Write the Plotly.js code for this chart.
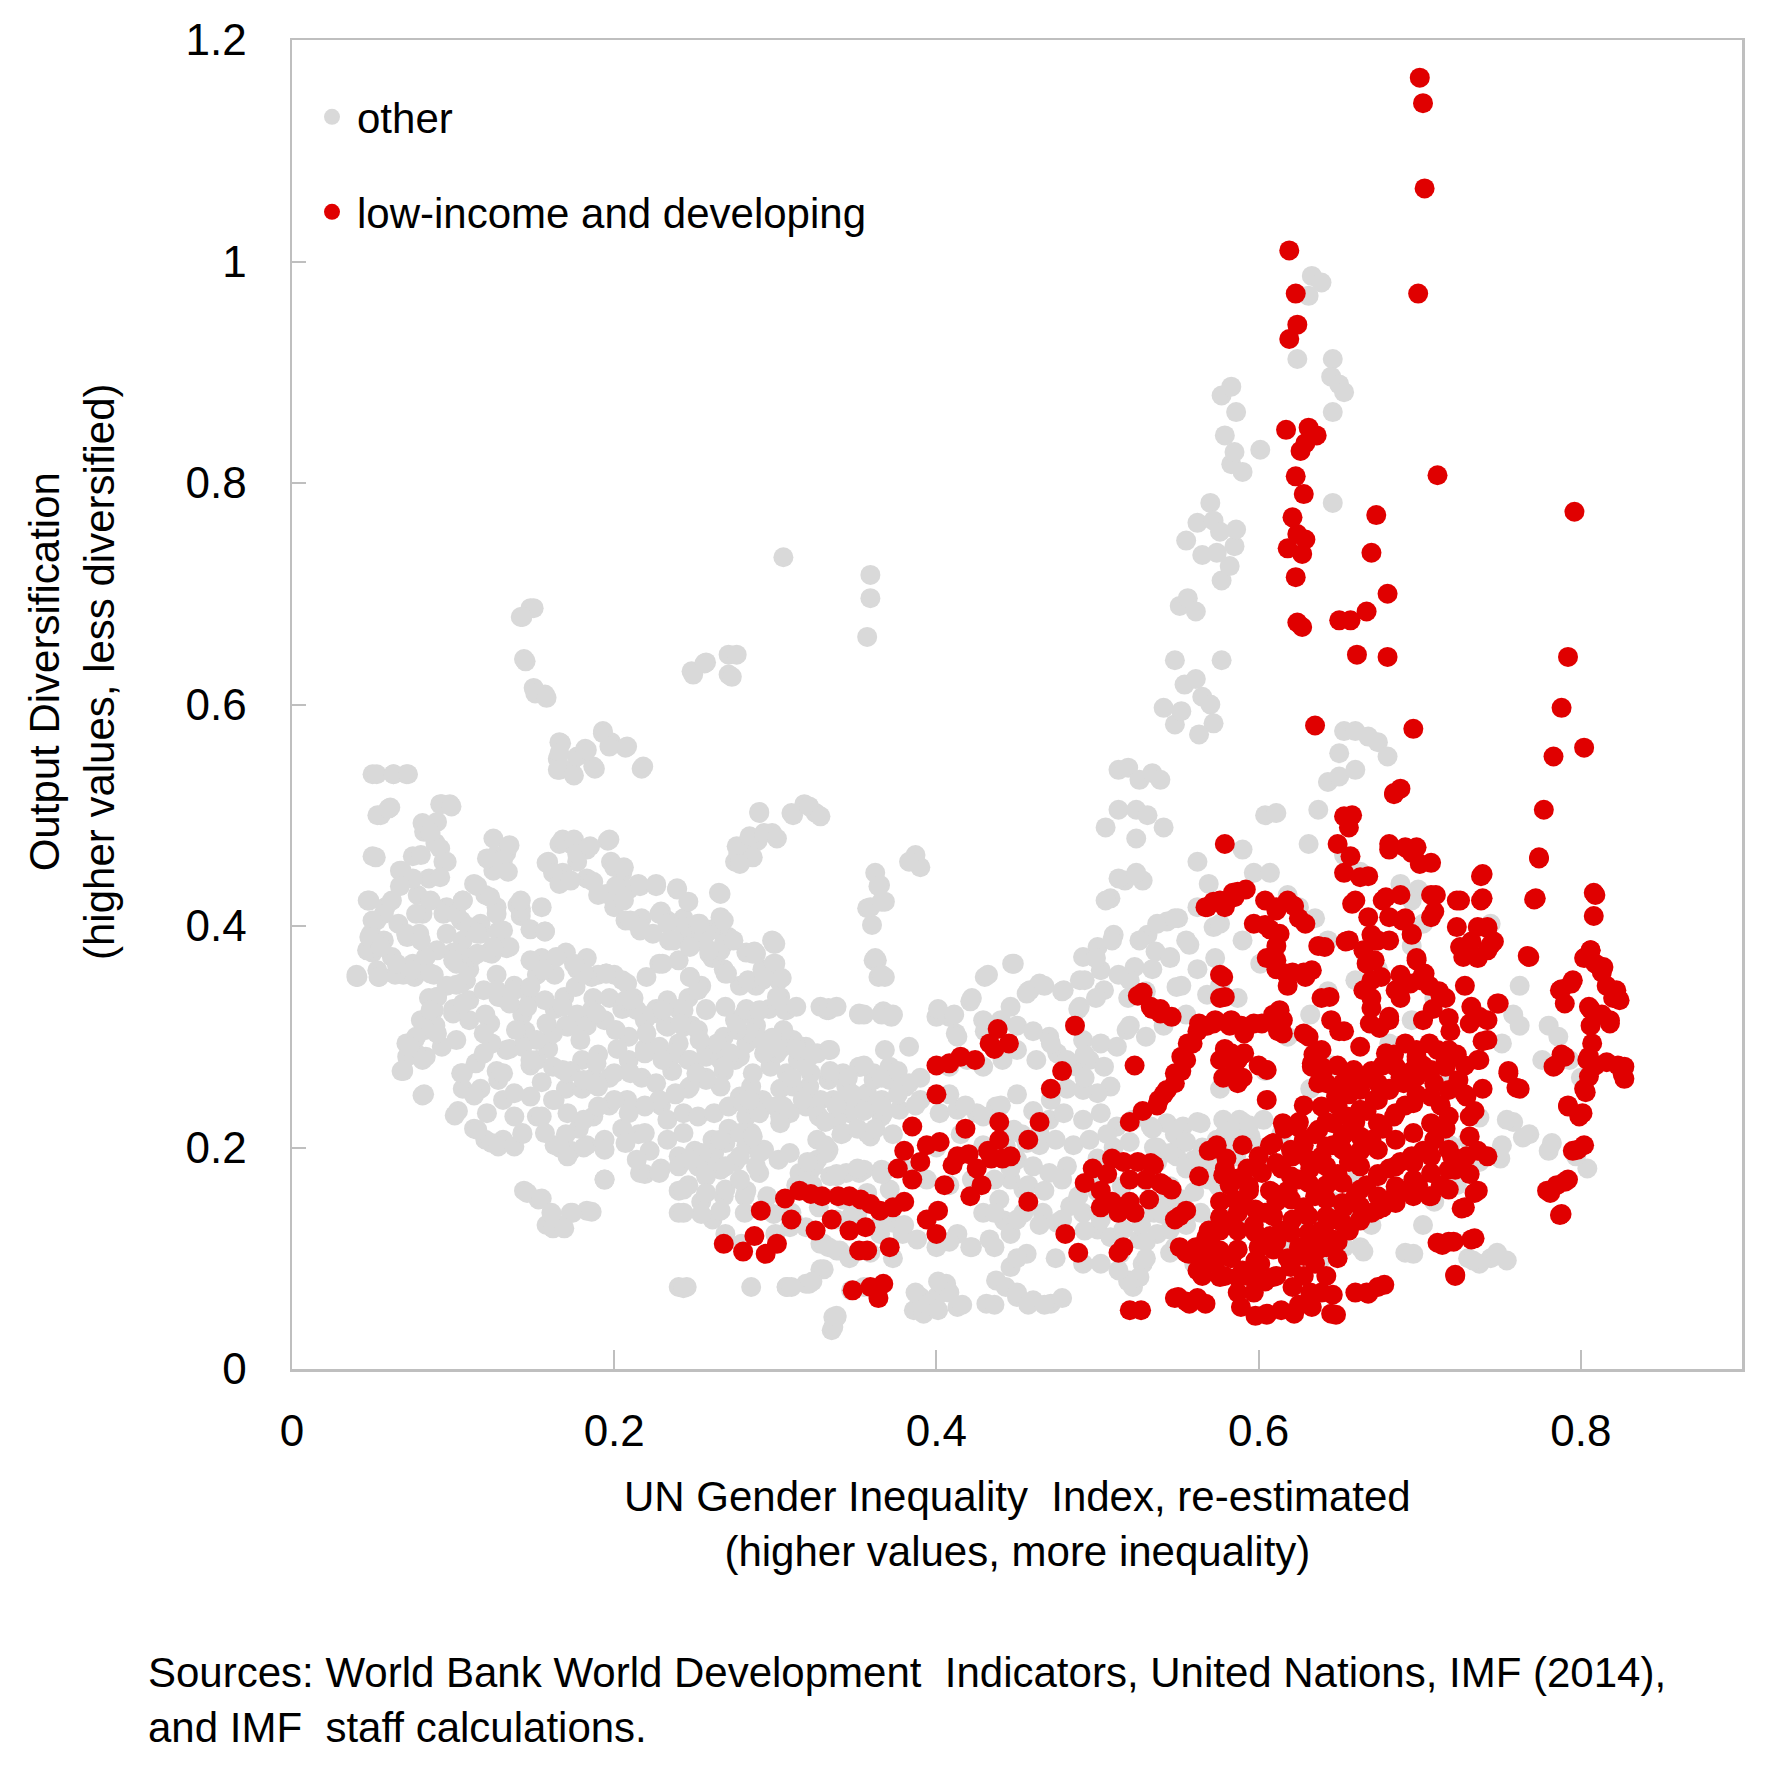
<!DOCTYPE html>
<html>
<head>
<meta charset="utf-8">
<script src="https://cdn.plot.ly/plotly-3.0.1.min.js"></script>
<style>
html,body{margin:0;padding:0;background:#fff;}
#chart{width:1767px;height:1779px;}
</style>
</head>
<body>
<div id="chart"></div>
<script>
// ---- Data: [gender inequality index, output diversification] ----
const otherLeft = [[0.04,0.356],[0.05,0.537],[0.063,0.537],[0.071,0.537],[0.053,0.50],[0.061,0.507],[0.05,0.463],[0.047,0.423],[0.058,0.417],[0.067,0.45],[0.075,0.463],[0.082,0.485],[0.092,0.51],[0.098,0.51],[0.089,0.475],[0.096,0.458],[0.085,0.443],[0.078,0.428],[0.066,0.402],[0.057,0.387],[0.05,0.376],[0.053,0.36],[0.064,0.356],[0.075,0.366],[0.082,0.361],[0.071,0.392],[0.096,0.417],[0.106,0.423],[0.113,0.438],[0.12,0.428],[0.127,0.417],[0.117,0.402],[0.106,0.387],[0.1,0.376],[0.11,0.361],[0.096,0.346],[0.085,0.335],[0.08,0.315],[0.071,0.294],[0.068,0.269],[0.082,0.248],[0.103,0.233],[0.078,0.284],[0.089,0.31],[0.1,0.325],[0.11,0.315],[0.12,0.32],[0.131,0.335],[0.127,0.356],[0.122,0.376],[0.131,0.382],[0.126,0.463],[0.133,0.466],[0.125,0.45],[0.14,0.419],[0.142,0.409],[0.138,0.346],[0.148,0.335],[0.143,0.32],[0.145,0.305],[0.135,0.289],[0.127,0.269],[0.117,0.253],[0.106,0.253],[0.113,0.217],[0.12,0.207],[0.131,0.207],[0.138,0.228],[0.143,0.212],[0.152,0.228],[0.163,0.243],[0.155,0.259],[0.148,0.274],[0.159,0.289],[0.17,0.31],[0.163,0.325],[0.152,0.356],[0.155,0.371],[0.163,0.356],[0.148,0.397],[0.155,0.417],[0.142,0.679],[0.148,0.687],[0.144,0.641],[0.15,0.615],[0.157,0.609]];
const otherUpperMid = [[0.166,0.566],[0.165,0.551],[0.166,0.541],[0.173,0.541],[0.177,0.553],[0.182,0.56],[0.187,0.544],[0.193,0.576],[0.198,0.566],[0.207,0.561],[0.218,0.544],[0.159,0.458],[0.166,0.474],[0.173,0.474],[0.177,0.458],[0.168,0.448],[0.183,0.469],[0.196,0.477],[0.198,0.458],[0.205,0.448],[0.209,0.433],[0.183,0.443],[0.19,0.428],[0.2,0.417],[0.215,0.438],[0.226,0.438],[0.217,0.407],[0.229,0.413],[0.239,0.433],[0.243,0.407],[0.234,0.387],[0.246,0.394],[0.254,0.387],[0.261,0.397],[0.265,0.43],[0.248,0.63],[0.257,0.638],[0.271,0.645],[0.271,0.627],[0.275,0.458],[0.282,0.474],[0.289,0.477],[0.298,0.484],[0.29,0.503],[0.277,0.466],[0.305,0.733],[0.31,0.502],[0.318,0.51],[0.325,0.502]];
const otherDense = [[0.17,0.376],[0.177,0.361],[0.183,0.371],[0.19,0.356],[0.2,0.356],[0.197,0.335],[0.187,0.335],[0.177,0.32],[0.183,0.31],[0.194,0.315],[0.205,0.325],[0.212,0.335],[0.219,0.315],[0.226,0.325],[0.232,0.31],[0.24,0.325],[0.246,0.335],[0.254,0.346],[0.257,0.325],[0.248,0.31],[0.24,0.294],[0.229,0.284],[0.219,0.289],[0.209,0.3],[0.202,0.289],[0.19,0.284],[0.18,0.279],[0.173,0.269],[0.17,0.253],[0.18,0.253],[0.187,0.263],[0.197,0.263],[0.209,0.269],[0.217,0.263],[0.226,0.258],[0.236,0.269],[0.246,0.279],[0.257,0.289],[0.268,0.3],[0.275,0.315],[0.282,0.325],[0.278,0.346],[0.268,0.361],[0.261,0.371],[0.282,0.376],[0.292,0.361],[0.299,0.366],[0.298,0.387],[0.288,0.346],[0.296,0.325],[0.288,0.31],[0.282,0.294],[0.275,0.279],[0.268,0.269],[0.257,0.263],[0.246,0.253],[0.238,0.248],[0.229,0.238],[0.219,0.238],[0.208,0.243],[0.197,0.238],[0.187,0.228],[0.178,0.217],[0.17,0.212],[0.163,0.202],[0.173,0.197],[0.183,0.202],[0.194,0.207],[0.205,0.217],[0.215,0.212],[0.222,0.197],[0.219,0.176],[0.229,0.181],[0.24,0.192],[0.25,0.197],[0.261,0.207],[0.271,0.217],[0.282,0.228],[0.292,0.243],[0.303,0.253],[0.303,0.228],[0.282,0.202],[0.275,0.187],[0.261,0.181],[0.246,0.166],[0.24,0.161],[0.254,0.151],[0.268,0.156],[0.282,0.161],[0.261,0.135],[0.24,0.141],[0.194,0.171],[0.183,0.143],[0.144,0.161],[0.153,0.153],[0.158,0.13],[0.166,0.13],[0.173,0.141],[0.24,0.074],[0.245,0.074],[0.279,0.113]];
const otherLowerLeft = [[0.0406,0.354],[0.0537,0.354],[0.0466,0.378],[0.049,0.393],[0.0525,0.405],[0.062,0.372],[0.069,0.356],[0.076,0.354],[0.088,0.356],[0.0715,0.39],[0.079,0.393],[0.081,0.411],[0.095,0.414],[0.105,0.405],[0.117,0.393],[0.128,0.395],[0.133,0.38],[0.124,0.375],[0.112,0.372],[0.102,0.366],[0.09,0.378],[0.083,0.372],[0.142,0.413],[0.157,0.395],[0.105,0.348],[0.09,0.336],[0.088,0.324],[0.1,0.321],[0.076,0.297],[0.083,0.306],[0.0715,0.282],[0.069,0.269],[0.081,0.247],[0.101,0.229],[0.083,0.282],[0.093,0.291],[0.105,0.267],[0.114,0.276],[0.113,0.247],[0.115,0.216],[0.121,0.231],[0.124,0.204],[0.128,0.201],[0.138,0.201],[0.131,0.243],[0.128,0.261],[0.138,0.249],[0.148,0.246],[0.155,0.228],[0.157,0.213],[0.166,0.2],[0.171,0.192],[0.181,0.2],[0.194,0.198],[0.207,0.204],[0.216,0.177],[0.228,0.177],[0.24,0.183],[0.252,0.183],[0.266,0.18],[0.269,0.204],[0.262,0.195],[0.243,0.213],[0.233,0.207],[0.219,0.213],[0.214,0.189],[0.194,0.171],[0.146,0.159],[0.155,0.154],[0.161,0.141],[0.174,0.141],[0.186,0.142],[0.162,0.127],[0.169,0.127],[0.243,0.073]];
const otherLowerMid = [[0.11,0.333],[0.119,0.342],[0.128,0.336],[0.138,0.342],[0.148,0.345],[0.157,0.333],[0.169,0.336],[0.176,0.345],[0.186,0.354],[0.195,0.357],[0.205,0.351],[0.207,0.333],[0.214,0.324],[0.224,0.321],[0.233,0.309],[0.243,0.309],[0.252,0.306],[0.186,0.324],[0.181,0.309],[0.171,0.309],[0.162,0.303],[0.152,0.297],[0.143,0.291],[0.133,0.288],[0.124,0.294],[0.152,0.279],[0.162,0.273],[0.171,0.267],[0.181,0.261],[0.19,0.255],[0.2,0.267],[0.209,0.279],[0.219,0.285],[0.228,0.291],[0.238,0.285],[0.247,0.279],[0.257,0.282],[0.266,0.279],[0.278,0.282],[0.285,0.303],[0.292,0.297],[0.302,0.294],[0.307,0.267],[0.297,0.273],[0.285,0.255],[0.278,0.246],[0.266,0.255],[0.257,0.261],[0.247,0.255],[0.238,0.249],[0.228,0.243],[0.219,0.237],[0.209,0.231],[0.2,0.243],[0.19,0.237],[0.181,0.225],[0.171,0.231],[0.162,0.243],[0.143,0.213],[0.233,0.225],[0.243,0.231],[0.252,0.228],[0.262,0.231],[0.271,0.237],[0.28,0.24],[0.29,0.231],[0.3,0.237],[0.309,0.231],[0.319,0.237],[0.328,0.243],[0.338,0.237],[0.347,0.243],[0.357,0.249],[0.366,0.243],[0.321,0.255],[0.333,0.261],[0.342,0.267],[0.352,0.273],[0.361,0.267],[0.371,0.273],[0.314,0.279],[0.323,0.285],[0.333,0.288],[0.311,0.297],[0.319,0.291],[0.333,0.324],[0.352,0.321],[0.366,0.321],[0.361,0.369],[0.364,0.354],[0.3,0.384],[0.3,0.366],[0.288,0.375],[0.302,0.351],[0.292,0.351],[0.283,0.351],[0.269,0.357],[0.266,0.378],[0.271,0.39],[0.259,0.375],[0.247,0.354],[0.252,0.342],[0.257,0.324],[0.269,0.327],[0.281,0.321],[0.276,0.306],[0.243,0.324],[0.233,0.333],[0.24,0.369],[0.228,0.366],[0.224,0.393],[0.233,0.405],[0.243,0.399],[0.252,0.402],[0.257,0.393],[0.207,0.405],[0.216,0.399],[0.266,0.408],[0.326,0.189],[0.321,0.177],[0.333,0.198],[0.342,0.213],[0.357,0.213],[0.366,0.228],[0.338,0.174],[0.352,0.177],[0.366,0.18],[0.285,0.213],[0.266,0.207],[0.254,0.195],[0.247,0.189],[0.257,0.174],[0.269,0.183],[0.278,0.192],[0.278,0.213],[0.29,0.195],[0.302,0.189],[0.309,0.195],[0.29,0.177],[0.281,0.156],[0.295,0.156],[0.281,0.141],[0.285,0.074],[0.307,0.074],[0.321,0.077],[0.328,0.09],[0.338,0.047],[0.335,0.035],[0.347,0.071],[0.333,0.11],[0.328,0.113],[0.34,0.107],[0.347,0.138],[0.342,0.153],[0.357,0.159],[0.371,0.162],[0.266,0.143],[0.254,0.14],[0.243,0.141],[0.243,0.162],[0.257,0.159],[0.269,0.162],[0.278,0.171],[0.269,0.122],[0.3,0.122],[0.311,0.134]];
const otherUpperLeft = [[0.150,0.687],[0.143,0.679],[0.145,0.639],[0.151,0.61],[0.158,0.606],[0.256,0.637],[0.249,0.627],[0.276,0.645],[0.273,0.625],[0.167,0.565],[0.166,0.556],[0.165,0.541],[0.175,0.536],[0.183,0.559],[0.188,0.542],[0.193,0.574],[0.197,0.562],[0.208,0.562],[0.217,0.542],[0.0526,0.537],[0.063,0.537],[0.072,0.537],[0.055,0.5],[0.06,0.506],[0.052,0.462],[0.048,0.423],[0.093,0.51],[0.099,0.508],[0.081,0.493],[0.09,0.494],[0.086,0.484],[0.092,0.47],[0.094,0.458],[0.08,0.464],[0.068,0.45],[0.075,0.443],[0.067,0.436],[0.062,0.423],[0.057,0.411],[0.05,0.405],[0.048,0.39],[0.055,0.381],[0.04,0.354],[0.054,0.354],[0.065,0.366],[0.075,0.36],[0.086,0.357],[0.071,0.393],[0.08,0.387],[0.077,0.411],[0.086,0.423],[0.092,0.444],[0.094,0.411],[0.102,0.411],[0.096,0.393],[0.11,0.399],[0.115,0.393],[0.106,0.423],[0.115,0.436],[0.123,0.426],[0.127,0.411],[0.131,0.396],[0.135,0.381],[0.125,0.381],[0.115,0.375],[0.104,0.375],[0.1,0.369],[0.108,0.351],[0.102,0.347],[0.125,0.479],[0.135,0.473],[0.121,0.461],[0.131,0.46],[0.134,0.449],[0.142,0.416],[0.142,0.423],[0.157,0.395],[0.168,0.478],[0.175,0.478],[0.158,0.457],[0.162,0.448],[0.166,0.438],[0.173,0.441],[0.177,0.465],[0.185,0.472],[0.197,0.478],[0.187,0.44],[0.195,0.429],[0.2,0.453],[0.206,0.453],[0.201,0.436],[0.206,0.423],[0.21,0.405],[0.216,0.396],[0.216,0.436],[0.226,0.436],[0.239,0.434],[0.246,0.422],[0.228,0.411],[0.233,0.402],[0.237,0.387],[0.23,0.366],[0.247,0.381],[0.253,0.402],[0.259,0.378],[0.268,0.405],[0.266,0.429],[0.268,0.384],[0.274,0.387],[0.286,0.375],[0.299,0.384],[0.299,0.363],[0.29,0.502],[0.311,0.5],[0.321,0.508],[0.328,0.499],[0.276,0.472],[0.284,0.481],[0.293,0.484],[0.301,0.479],[0.286,0.462],[0.278,0.456],[0.332,0.324],[0.303,0.336],[0.307,0.324],[0.276,0.312],[0.264,0.294],[0.282,0.324],[0.27,0.357],[0.247,0.354],[0.22,0.354],[0.23,0.324],[0.208,0.348],[0.195,0.357],[0.181,0.357],[0.175,0.366],[0.164,0.372],[0.148,0.369],[0.156,0.36],[0.146,0.327],[0.168,0.327],[0.189,0.321],[0.21,0.333],[0.09,0.336],[0.086,0.324],[0.106,0.33],[0.127,0.342],[0.135,0.33],[0.123,0.312],[0.077,0.3],[0.073,0.291],[0.069,0.27],[0.081,0.279],[0.09,0.303],[0.102,0.297],[0.119,0.303],[0.139,0.306],[0.158,0.312],[0.179,0.297],[0.201,0.306],[0.22,0.303],[0.241,0.312],[0.253,0.297],[0.272,0.285],[0.293,0.294],[0.301,0.285],[0.317,0.291],[0.328,0.327],[0.106,0.267],[0.119,0.285],[0.131,0.267],[0.148,0.279],[0.168,0.27],[0.189,0.276],[0.21,0.267],[0.23,0.279],[0.251,0.267],[0.268,0.273],[0.322,0.267]];
const otherMidBand = [[0.365,0.437],[0.368,0.422],[0.357,0.416],[0.36,0.401],[0.363,0.369],[0.368,0.354],[0.299,0.386],[0.287,0.377],[0.299,0.363],[0.304,0.353],[0.293,0.354],[0.301,0.336],[0.306,0.324],[0.29,0.324],[0.333,0.326],[0.352,0.32],[0.367,0.323],[0.372,0.318],[0.305,0.306],[0.298,0.299],[0.313,0.291],[0.326,0.285],[0.334,0.288],[0.368,0.288],[0.383,0.291],[0.408,0.318],[0.412,0.303],[0.421,0.332],[0.43,0.354],[0.448,0.366],[0.464,0.348],[0.456,0.339],[0.479,0.342],[0.489,0.351],[0.5,0.381],[0.491,0.372],[0.508,0.425],[0.51,0.392],[0.531,0.392],[0.543,0.404],[0.55,0.407],[0.536,0.377],[0.545,0.372],[0.557,0.383],[0.523,0.363],[0.52,0.351],[0.502,0.36],[0.504,0.342],[0.489,0.327],[0.549,0.345],[0.568,0.338],[0.572,0.399],[0.517,0.441],[0.528,0.441],[0.4,0.318],[0.413,0.3],[0.429,0.315],[0.446,0.327],[0.458,0.342],[0.408,0.273],[0.419,0.279],[0.429,0.273],[0.441,0.279],[0.45,0.288],[0.462,0.279],[0.47,0.3],[0.475,0.285],[0.487,0.273],[0.495,0.279],[0.504,0.273],[0.508,0.255],[0.5,0.249],[0.491,0.252],[0.512,0.291],[0.518,0.306],[0.491,0.297],[0.293,0.285],[0.286,0.267],[0.284,0.243],[0.305,0.237],[0.303,0.222],[0.311,0.255],[0.319,0.273],[0.334,0.267],[0.344,0.255],[0.353,0.273],[0.361,0.261],[0.371,0.261],[0.381,0.255],[0.39,0.243],[0.336,0.243],[0.346,0.231],[0.357,0.237],[0.367,0.231],[0.377,0.234],[0.338,0.225],[0.326,0.207],[0.332,0.195],[0.324,0.183],[0.315,0.177],[0.334,0.174],[0.344,0.177],[0.355,0.18],[0.367,0.177],[0.288,0.183],[0.293,0.198],[0.286,0.21],[0.359,0.21],[0.402,0.231],[0.4,0.2],[0.413,0.234],[0.425,0.231],[0.437,0.237],[0.448,0.216],[0.456,0.204],[0.464,0.213],[0.47,0.225],[0.479,0.231],[0.491,0.225],[0.502,0.231],[0.512,0.219],[0.522,0.225],[0.533,0.219],[0.543,0.222],[0.553,0.219],[0.564,0.222],[0.578,0.225],[0.588,0.225],[0.45,0.189],[0.46,0.183],[0.47,0.177],[0.481,0.183],[0.446,0.171],[0.454,0.162],[0.439,0.153],[0.429,0.141],[0.442,0.134],[0.454,0.141],[0.466,0.141],[0.475,0.132],[0.483,0.147],[0.491,0.141],[0.5,0.126],[0.508,0.119],[0.516,0.126],[0.526,0.117],[0.537,0.122],[0.545,0.126],[0.528,0.095],[0.52,0.08],[0.535,0.141],[0.543,0.147],[0.553,0.153],[0.564,0.141],[0.574,0.132],[0.584,0.137],[0.59,0.171],[0.58,0.177],[0.57,0.183],[0.56,0.189],[0.549,0.192],[0.537,0.2],[0.551,0.204],[0.574,0.207],[0.588,0.2],[0.421,0.11],[0.433,0.117],[0.446,0.122],[0.456,0.104],[0.446,0.092],[0.437,0.08],[0.431,0.059],[0.45,0.065],[0.46,0.062],[0.471,0.059],[0.413,0.056],[0.406,0.077],[0.4,0.065],[0.39,0.065],[0.386,0.053],[0.392,0.05],[0.307,0.074],[0.319,0.077],[0.33,0.09],[0.336,0.047],[0.338,0.107],[0.33,0.113],[0.319,0.128],[0.309,0.128],[0.299,0.14],[0.413,0.122],[0.4,0.11],[0.388,0.117],[0.379,0.122],[0.373,0.132],[0.365,0.122],[0.491,0.095],[0.502,0.095],[0.514,0.104],[0.522,0.074],[0.526,0.083]];
const otherMiddle = [[0.303,0.289],[0.313,0.289],[0.323,0.284],[0.334,0.269],[0.345,0.263],[0.355,0.274],[0.366,0.263],[0.376,0.269],[0.383,0.258],[0.39,0.263],[0.31,0.263],[0.317,0.243],[0.327,0.228],[0.338,0.238],[0.348,0.248],[0.355,0.233],[0.366,0.238],[0.376,0.248],[0.387,0.238],[0.331,0.223],[0.341,0.212],[0.351,0.217],[0.362,0.217],[0.373,0.212],[0.338,0.327],[0.355,0.32],[0.366,0.32],[0.313,0.327],[0.331,0.202],[0.32,0.187],[0.313,0.166],[0.323,0.166],[0.338,0.176],[0.351,0.181],[0.366,0.176],[0.38,0.181],[0.394,0.171],[0.408,0.166],[0.31,0.141],[0.327,0.146],[0.338,0.135],[0.351,0.141],[0.366,0.135],[0.38,0.13],[0.31,0.074],[0.323,0.079],[0.336,0.038],[0.338,0.048],[0.355,0.074],[0.346,0.1],[0.359,0.105],[0.373,0.1],[0.387,0.069],[0.394,0.058],[0.401,0.053],[0.408,0.069],[0.416,0.058],[0.401,0.079],[0.436,0.058],[0.443,0.074],[0.45,0.069],[0.457,0.058],[0.467,0.058],[0.478,0.064],[0.474,0.1],[0.45,0.1],[0.436,0.11],[0.422,0.11],[0.408,0.115],[0.359,0.717],[0.359,0.696],[0.357,0.661],[0.362,0.448],[0.364,0.436],[0.359,0.417],[0.366,0.422],[0.362,0.371],[0.366,0.356],[0.387,0.464],[0.39,0.453],[0.383,0.458],[0.373,0.32],[0.401,0.325],[0.411,0.32],[0.422,0.335],[0.432,0.356],[0.447,0.366],[0.457,0.341],[0.467,0.346],[0.478,0.341],[0.488,0.325],[0.43,0.305],[0.44,0.315],[0.45,0.31],[0.46,0.305],[0.471,0.294],[0.481,0.279],[0.492,0.284],[0.502,0.294],[0.492,0.263],[0.481,0.253],[0.471,0.243],[0.46,0.233],[0.45,0.248],[0.44,0.238],[0.429,0.228],[0.418,0.238],[0.408,0.248],[0.415,0.212],[0.429,0.202],[0.443,0.202],[0.453,0.212],[0.464,0.202],[0.474,0.207],[0.485,0.202],[0.495,0.207],[0.506,0.212],[0.422,0.171],[0.436,0.171],[0.446,0.181],[0.457,0.166],[0.467,0.161],[0.478,0.171],[0.488,0.156],[0.499,0.166],[0.509,0.151],[0.436,0.141],[0.45,0.135],[0.464,0.13],[0.478,0.135],[0.492,0.125],[0.502,0.135]];
const otherCenter = [[0.513,0.541],[0.519,0.543],[0.526,0.532],[0.534,0.538],[0.539,0.532],[0.505,0.489],[0.513,0.505],[0.524,0.505],[0.531,0.5],[0.524,0.479],[0.541,0.489],[0.513,0.443],[0.524,0.448],[0.505,0.423],[0.509,0.387],[0.499,0.371],[0.492,0.351],[0.499,0.335],[0.513,0.356],[0.519,0.335],[0.526,0.387],[0.537,0.402],[0.548,0.407],[0.555,0.387],[0.545,0.371],[0.534,0.361],[0.53,0.341],[0.552,0.346],[0.562,0.361],[0.573,0.371],[0.576,0.346],[0.52,0.31],[0.53,0.3],[0.541,0.31],[0.555,0.32],[0.541,0.597],[0.548,0.582],[0.552,0.594],[0.548,0.64],[0.554,0.618],[0.561,0.623],[0.565,0.607],[0.57,0.6],[0.572,0.583],[0.563,0.573],[0.551,0.689],[0.556,0.696],[0.561,0.684],[0.555,0.748],[0.562,0.764],[0.565,0.735],[0.57,0.782],[0.572,0.766],[0.576,0.756],[0.574,0.737],[0.577,0.712],[0.582,0.725],[0.585,0.743],[0.583,0.817],[0.585,0.828],[0.579,0.843],[0.577,0.879],[0.583,0.887],[0.586,0.864],[0.59,0.81],[0.586,0.758],[0.577,0.64],[0.601,0.83],[0.562,0.458],[0.569,0.438],[0.562,0.417],[0.576,0.402],[0.59,0.469],[0.597,0.448],[0.604,0.5],[0.611,0.502],[0.607,0.448],[0.618,0.428],[0.59,0.387],[0.601,0.366],[0.587,0.335],[0.576,0.253],[0.562,0.223],[0.548,0.212],[0.534,0.217],[0.537,0.187],[0.555,0.181],[0.569,0.171],[0.579,0.212],[0.59,0.223],[0.586,0.192],[0.597,0.202],[0.541,0.151],[0.527,0.13],[0.53,0.1],[0.519,0.079],[0.513,0.089],[0.548,0.11],[0.5,0.19],[0.51,0.2],[0.52,0.205],[0.535,0.2],[0.545,0.195],[0.555,0.205],[0.565,0.2],[0.575,0.19],[0.585,0.2],[0.595,0.21],[0.6,0.195],[0.5,0.16],[0.515,0.165],[0.53,0.17],[0.545,0.165],[0.56,0.16],[0.575,0.165],[0.59,0.17],[0.54,0.14],[0.555,0.13],[0.57,0.12],[0.585,0.135],[0.6,0.14],[0.53,0.115],[0.545,0.105],[0.56,0.095],[0.584,0.216],[0.594,0.22],[0.603,0.225]];
const otherRight = [[0.633,0.987],[0.639,0.981],[0.631,0.969],[0.624,0.912],[0.646,0.912],[0.645,0.896],[0.65,0.889],[0.653,0.882],[0.646,0.864],[0.646,0.782],[0.653,0.576],[0.66,0.576],[0.65,0.556],[0.643,0.53],[0.65,0.535],[0.637,0.505],[0.631,0.474],[0.653,0.464],[0.663,0.449],[0.668,0.571],[0.674,0.566],[0.66,0.541],[0.68,0.553],[0.625,0.417],[0.635,0.407],[0.643,0.387],[0.667,0.371],[0.688,0.438],[0.699,0.433],[0.744,0.402],[0.762,0.346],[0.758,0.32],[0.751,0.294],[0.762,0.31],[0.776,0.279],[0.78,0.31],[0.786,0.3],[0.793,0.279],[0.8,0.263],[0.768,0.212],[0.758,0.223],[0.751,0.202],[0.78,0.197],[0.804,0.181],[0.797,0.192],[0.744,0.1],[0.737,0.095],[0.73,0.1],[0.748,0.105],[0.691,0.105],[0.702,0.13],[0.709,0.151],[0.723,0.166],[0.73,0.181],[0.737,0.187],[0.73,0.207],[0.719,0.202],[0.614,0.212],[0.604,0.141],[0.618,0.11],[0.632,0.13],[0.646,0.151],[0.66,0.171],[0.67,0.13],[0.681,0.151],[0.695,0.161],[0.66,0.135],[0.639,0.1],[0.653,0.11],[0.663,0.11],[0.604,0.269],[0.618,0.3],[0.632,0.32],[0.643,0.341],[0.66,0.351],[0.674,0.361],[0.695,0.382],[0.702,0.402],[0.695,0.423],[0.632,0.253],[0.646,0.274],[0.681,0.294],[0.695,0.315],[0.709,0.335],[0.716,0.263],[0.723,0.253],[0.665,0.106],[0.696,0.104],[0.733,0.098],[0.754,0.098],[0.754,0.225],[0.764,0.209],[0.782,0.204],[0.737,0.227],[0.75,0.19]];

const lowLeft = [[0.268,0.113],[0.28,0.106],[0.287,0.12],[0.294,0.104],[0.301,0.113],[0.291,0.143],[0.306,0.154],[0.315,0.161],[0.322,0.158],[0.329,0.156],[0.339,0.156],[0.346,0.156],[0.353,0.153],[0.359,0.149],[0.365,0.143],[0.31,0.135],[0.325,0.125],[0.335,0.135],[0.346,0.125],[0.356,0.128],[0.352,0.107],[0.357,0.107],[0.371,0.11],[0.348,0.071],[0.359,0.074],[0.364,0.064],[0.367,0.077],[0.373,0.146],[0.38,0.151],[0.385,0.171],[0.39,0.187],[0.394,0.202],[0.385,0.219],[0.38,0.197],[0.376,0.181],[0.394,0.135],[0.4,0.122],[0.401,0.143],[0.405,0.166],[0.41,0.184],[0.402,0.205],[0.4,0.248],[0.4,0.274],[0.408,0.276],[0.415,0.282],[0.424,0.279],[0.433,0.294],[0.438,0.307],[0.436,0.289],[0.445,0.294],[0.418,0.217],[0.413,0.192],[0.42,0.194],[0.425,0.181],[0.421,0.156],[0.428,0.166],[0.434,0.19],[0.439,0.207],[0.439,0.223],[0.432,0.197],[0.441,0.19],[0.446,0.192],[0.457,0.207],[0.464,0.223],[0.457,0.151],[0.471,0.253],[0.478,0.269],[0.486,0.31],[0.48,0.122],[0.488,0.105]];
const lowMid = [[0.492,0.168],[0.497,0.181],[0.502,0.161],[0.506,0.176],[0.509,0.19],[0.516,0.187],[0.52,0.171],[0.525,0.187],[0.53,0.171],[0.535,0.184],[0.52,0.151],[0.513,0.141],[0.523,0.141],[0.532,0.153],[0.541,0.166],[0.509,0.151],[0.502,0.146],[0.513,0.105],[0.516,0.11],[0.52,0.053],[0.527,0.053],[0.52,0.223],[0.523,0.274],[0.525,0.337],[0.528,0.34],[0.534,0.325],[0.539,0.325],[0.537,0.238],[0.528,0.233],[0.541,0.248],[0.548,0.258],[0.552,0.269],[0.555,0.279],[0.559,0.294],[0.562,0.305],[0.568,0.31],[0.573,0.315],[0.582,0.31],[0.589,0.31],[0.597,0.312],[0.576,0.279],[0.579,0.289],[0.587,0.279],[0.59,0.263],[0.578,0.263],[0.576,0.356],[0.576,0.335],[0.568,0.417],[0.572,0.422],[0.579,0.417],[0.584,0.43],[0.592,0.433],[0.579,0.474],[0.6,0.274],[0.605,0.243],[0.611,0.312],[0.548,0.135],[0.555,0.143],[0.548,0.064],[0.555,0.061],[0.562,0.064]];
const lowDense = [[0.555,0.105],[0.561,0.11],[0.565,0.105],[0.57,0.115],[0.576,0.125],[0.582,0.13],[0.587,0.141],[0.59,0.151],[0.594,0.161],[0.562,0.089],[0.573,0.095],[0.583,0.1],[0.59,0.089],[0.601,0.095],[0.579,0.084],[0.587,0.069],[0.597,0.069],[0.604,0.079],[0.611,0.084],[0.598,0.048],[0.605,0.05],[0.614,0.053],[0.625,0.058],[0.632,0.058],[0.639,0.069],[0.645,0.05],[0.569,0.125],[0.597,0.13],[0.604,0.141],[0.611,0.151],[0.618,0.161],[0.625,0.171],[0.632,0.181],[0.639,0.192],[0.646,0.202],[0.653,0.212],[0.66,0.223],[0.667,0.233],[0.674,0.243],[0.681,0.253],[0.688,0.263],[0.695,0.269],[0.6,0.11],[0.607,0.12],[0.614,0.125],[0.621,0.135],[0.628,0.146],[0.635,0.156],[0.642,0.166],[0.649,0.176],[0.656,0.187],[0.663,0.197],[0.67,0.207],[0.677,0.217],[0.684,0.228],[0.691,0.238],[0.698,0.248],[0.618,0.1],[0.625,0.11],[0.632,0.115],[0.639,0.125],[0.646,0.135],[0.653,0.146],[0.66,0.156],[0.667,0.166],[0.674,0.176],[0.681,0.181],[0.688,0.187],[0.695,0.192],[0.702,0.197],[0.709,0.207],[0.607,0.161],[0.614,0.181],[0.621,0.192],[0.628,0.202],[0.635,0.212],[0.642,0.223],[0.649,0.238],[0.656,0.248],[0.663,0.258],[0.67,0.269],[0.677,0.274],[0.684,0.284],[0.691,0.294],[0.702,0.274],[0.709,0.258],[0.713,0.238],[0.716,0.217],[0.72,0.192],[0.713,0.166],[0.706,0.156],[0.699,0.166],[0.691,0.161],[0.684,0.156],[0.677,0.146],[0.67,0.141],[0.663,0.135],[0.656,0.125],[0.649,0.115],[0.642,0.11],[0.635,0.095],[0.628,0.084],[0.621,0.074],[0.611,0.115],[0.593,0.181],[0.59,0.202],[0.6,0.192],[0.607,0.202],[0.616,0.217],[0.625,0.223],[0.628,0.238],[0.632,0.069],[0.642,0.084],[0.649,0.1],[0.582,0.166],[0.576,0.151],[0.579,0.181],[0.569,0.197],[0.574,0.202],[0.551,0.11],[0.593,0.084],[0.565,0.084],[0.667,0.069],[0.674,0.074],[0.66,0.069]];
const lowBlob = [[0.5566,0.104],[0.5675,0.119],[0.576,0.137],[0.585,0.153],[0.594,0.165],[0.602,0.177],[0.611,0.186],[0.62,0.198],[0.628,0.207],[0.637,0.216],[0.646,0.222],[0.655,0.228],[0.663,0.234],[0.672,0.243],[0.681,0.252],[0.69,0.258],[0.698,0.264],[0.707,0.27],[0.716,0.273],[0.724,0.261],[0.729,0.246],[0.731,0.228],[0.731,0.21],[0.729,0.192],[0.722,0.18],[0.718,0.162],[0.707,0.156],[0.696,0.156],[0.685,0.15],[0.674,0.144],[0.663,0.134],[0.655,0.126],[0.646,0.117],[0.637,0.108],[0.628,0.102],[0.62,0.092],[0.609,0.083],[0.598,0.08],[0.587,0.083],[0.576,0.083],[0.565,0.092],[0.559,0.107],[0.598,0.123],[0.609,0.138],[0.62,0.153],[0.631,0.168],[0.642,0.183],[0.652,0.198],[0.663,0.21],[0.674,0.222],[0.685,0.231],[0.696,0.24],[0.707,0.246],[0.718,0.252],[0.587,0.108],[0.609,0.108],[0.62,0.123],[0.631,0.138],[0.642,0.153],[0.652,0.168],[0.663,0.183],[0.674,0.198],[0.685,0.207],[0.696,0.213],[0.707,0.222],[0.718,0.228],[0.685,0.183],[0.696,0.186],[0.707,0.192],[0.718,0.198],[0.674,0.174],[0.663,0.162],[0.652,0.15],[0.642,0.138],[0.631,0.123],[0.598,0.098],[0.576,0.107],[0.587,0.125],[0.598,0.144],[0.609,0.159],[0.62,0.174],[0.631,0.189],[0.642,0.201],[0.652,0.21],[0.642,0.12],[0.652,0.132],[0.663,0.147],[0.674,0.156],[0.685,0.165],[0.696,0.171],[0.707,0.177],[0.718,0.18],[0.674,0.258],[0.685,0.273],[0.698,0.282],[0.711,0.288],[0.72,0.282],[0.663,0.258],[0.652,0.258],[0.642,0.258],[0.639,0.273],[0.633,0.276],[0.637,0.258],[0.639,0.237],[0.648,0.246],[0.659,0.27],[0.663,0.252],[0.55,0.065],[0.557,0.059],[0.567,0.059],[0.589,0.056],[0.605,0.049],[0.622,0.05],[0.633,0.056],[0.646,0.067],[0.648,0.049],[0.668,0.068],[0.678,0.076],[0.722,0.085],[0.711,0.114],[0.718,0.115],[0.732,0.117],[0.726,0.145],[0.734,0.159],[0.563,0.174],[0.551,0.138],[0.539,0.168],[0.546,0.162],[0.533,0.186],[0.573,0.199],[0.58,0.19],[0.578,0.175],[0.587,0.172],[0.615,0.222],[0.624,0.219],[0.609,0.204]];
const lowUpper = [[0.597,0.402],[0.604,0.423],[0.611,0.417],[0.618,0.423],[0.607,0.397],[0.611,0.382],[0.605,0.371],[0.611,0.361],[0.621,0.358],[0.628,0.358],[0.618,0.346],[0.625,0.407],[0.609,0.32],[0.612,0.305],[0.628,0.303],[0.634,0.284],[0.637,0.382],[0.639,0.335],[0.645,0.315],[0.64,0.269],[0.649,0.274],[0.656,0.263],[0.653,0.305],[0.656,0.387],[0.66,0.423],[0.653,0.448],[0.649,0.474],[0.653,0.499],[0.656,0.489],[0.658,0.5],[0.663,0.444],[0.667,0.366],[0.67,0.335],[0.67,0.392],[0.674,0.387],[0.677,0.423],[0.675,0.308],[0.681,0.318],[0.688,0.356],[0.681,0.474],[0.684,0.519],[0.688,0.524],[0.691,0.471],[0.698,0.471],[0.7,0.456],[0.691,0.407],[0.688,0.428],[0.695,0.392],[0.698,0.371],[0.702,0.356],[0.706,0.346],[0.708,0.325],[0.688,0.335],[0.698,0.279],[0.702,0.315],[0.706,0.294],[0.71,0.428],[0.709,0.413],[0.712,0.341],[0.716,0.335],[0.716,0.279],[0.723,0.284],[0.719,0.305],[0.739,0.425],[0.736,0.399],[0.742,0.399],[0.725,0.423],[0.732,0.386],[0.736,0.371],[0.742,0.378],[0.746,0.386],[0.739,0.447],[0.728,0.346],[0.732,0.327],[0.742,0.315],[0.739,0.296],[0.736,0.279],[0.728,0.274],[0.749,0.33],[0.739,0.253],[0.728,0.248],[0.734,0.233],[0.736,0.197],[0.742,0.192],[0.731,0.176],[0.736,0.161],[0.728,0.146],[0.721,0.115],[0.714,0.112],[0.734,0.118],[0.722,0.084],[0.755,0.269],[0.762,0.253]];
const lowUpper2 = [[0.657,0.463],[0.681,0.469],[0.695,0.466],[0.707,0.457],[0.774,0.461],[0.771,0.424],[0.668,0.445],[0.658,0.42],[0.668,0.408],[0.679,0.426],[0.681,0.408],[0.689,0.405],[0.695,0.393],[0.707,0.428],[0.707,0.408],[0.723,0.423],[0.738,0.445],[0.738,0.423],[0.723,0.399],[0.742,0.398],[0.725,0.381],[0.727,0.372],[0.744,0.383],[0.768,0.372],[0.748,0.33],[0.737,0.318],[0.731,0.312],[0.718,0.317],[0.713,0.336],[0.742,0.297],[0.737,0.279],[0.718,0.288],[0.698,0.288],[0.7,0.27],[0.679,0.285],[0.663,0.291],[0.669,0.312],[0.67,0.326],[0.681,0.315],[0.665,0.342],[0.67,0.351],[0.676,0.354],[0.685,0.342],[0.694,0.348],[0.7,0.351],[0.698,0.369],[0.703,0.357],[0.672,0.369],[0.672,0.387],[0.681,0.387],[0.665,0.378],[0.654,0.386],[0.641,0.381],[0.644,0.336],[0.65,0.305],[0.631,0.3],[0.615,0.303],[0.615,0.315],[0.613,0.324],[0.602,0.312],[0.591,0.303],[0.583,0.315],[0.572,0.312],[0.563,0.312],[0.556,0.294],[0.552,0.282],[0.548,0.267],[0.543,0.252],[0.538,0.243],[0.583,0.285],[0.591,0.285],[0.585,0.27],[0.587,0.258],[0.605,0.27],[0.639,0.288],[0.633,0.273],[0.578,0.354],[0.579,0.336],[0.604,0.401],[0.611,0.414],[0.622,0.418],[0.629,0.402],[0.613,0.393],[0.611,0.369],[0.617,0.357],[0.629,0.354],[0.633,0.36],[0.567,0.417],[0.576,0.423],[0.587,0.431],[0.585,0.426],[0.539,0.321],[0.546,0.318],[0.533,0.327]];
const lowSpikes = [[0.619,1.01],[0.623,0.971],[0.619,0.93],[0.624,0.943],[0.617,0.848],[0.631,0.85],[0.629,0.836],[0.636,0.843],[0.626,0.829],[0.623,0.806],[0.628,0.79],[0.621,0.769],[0.624,0.754],[0.629,0.749],[0.618,0.741],[0.627,0.736],[0.623,0.715],[0.624,0.674],[0.627,0.67],[0.635,0.581],[0.65,0.676],[0.657,0.676],[0.661,0.645],[0.667,0.684],[0.67,0.737],[0.673,0.771],[0.68,0.70],[0.68,0.643],[0.684,0.52],[0.696,0.578],[0.70,1.166],[0.702,1.143],[0.703,1.066],[0.699,0.971],[0.711,0.807]];
const lowRight = [[0.796,0.774],[0.792,0.643],[0.788,0.597],[0.783,0.553],[0.802,0.561],[0.777,0.505],[0.774,0.462],[0.772,0.425],[0.767,0.373],[0.788,0.343],[0.795,0.351],[0.79,0.33],[0.802,0.371],[0.806,0.378],[0.809,0.366],[0.813,0.358],[0.809,0.428],[0.808,0.409],[0.816,0.346],[0.82,0.335],[0.823,0.335],[0.806,0.325],[0.813,0.32],[0.818,0.315],[0.806,0.31],[0.807,0.294],[0.804,0.279],[0.809,0.274],[0.816,0.277],[0.823,0.274],[0.826,0.266],[0.788,0.284],[0.784,0.274],[0.802,0.253],[0.792,0.238],[0.799,0.228],[0.802,0.202],[0.795,0.197],[0.792,0.171],[0.785,0.166],[0.779,0.161],[0.788,0.14],[0.808,0.43],[0.806,0.378],[0.803,0.372],[0.814,0.363],[0.794,0.348],[0.787,0.342],[0.805,0.327],[0.822,0.342],[0.824,0.333],[0.818,0.312],[0.805,0.282],[0.827,0.273],[0.827,0.262],[0.805,0.264],[0.803,0.25],[0.79,0.282],[0.783,0.273],[0.792,0.237],[0.801,0.231],[0.755,0.267],[0.76,0.254],[0.787,0.139],[0.781,0.159],[0.79,0.169],[0.798,0.198]];

const seriesNames = ['other', 'low-income and developing'];
const xTicks = [0, 0.2, 0.4, 0.6, 0.8];
const yTicks = [0, 0.2, 0.4, 0.6, 0.8, 1, 1.2];
const xTitle = 'UN Gender Inequality  Index, re-estimated<br>(higher values, more inequality)';
const yTitle = 'Output Diversification<br>(higher values, less diversified)';
const sourceNote = 'Sources: World Bank World Development  Indicators, United Nations, IMF (2014),<br>and IMF  staff calculations.';

// ---- Build traces ----
const otherPts = [].concat(otherLeft, otherUpperMid, otherDense, otherLowerLeft, otherLowerMid, otherUpperLeft, otherMidBand, otherMiddle, otherCenter, otherRight);
const lowPts = [].concat(lowLeft, lowMid, lowDense, lowBlob, lowUpper, lowUpper2, lowSpikes, lowRight);

const FONT = '"Liberation Sans Narrow", "Arial Narrow", "Liberation Sans", Arial, sans-serif';
const FS_TEXT = 42;
const FS_TICK = 44;
const AXC = '#bfbfbf';

const traces = [
  {
    type: 'scatter', mode: 'markers', name: seriesNames[0],
    x: otherPts.map(p => p[0]), y: otherPts.map(p => p[1]),
    marker: {color: '#d9d9d9', size: 20, line: {width: 0}},
    legend: 'legend', hoverinfo: 'x+y'
  },
  {
    type: 'scatter', mode: 'markers', name: seriesNames[1],
    x: lowPts.map(p => p[0]), y: lowPts.map(p => p[1]),
    marker: {color: '#e00000', size: 20, line: {width: 0}},
    legend: 'legend2', hoverinfo: 'x+y'
  }
];

const W = 1767, H = 1779;
const L = 292, R = 25, T = 40, B = 410;
const plotW = W - L - R, plotH = H - T - B;
const px2x = px => (px - L) / plotW;
const py2y = py => (H - B - py) / plotH;

const legendCommon = {
  font: {family: FONT, size: FS_TEXT, color: '#000'},
  bgcolor: 'rgba(0,0,0,0)', borderwidth: 0,
  xanchor: 'left', yanchor: 'middle', itemsizing: 'trace', itemwidth: 40
};

const layout = {
  width: W, height: H,
  margin: {l: L, r: R, t: T, b: B, pad: 0},
  paper_bgcolor: '#fff', plot_bgcolor: '#fff',
  font: {family: FONT, size: FS_TEXT, color: '#000'},
  showlegend: true,
  legend: Object.assign({x: px2x(307), y: py2y(117)}, legendCommon),
  legend2: Object.assign({x: px2x(307), y: py2y(212)}, legendCommon),
  xaxis: {
    range: [0, 0.9], tickvals: xTicks, ticktext: xTicks.map(String),
    showgrid: false, zeroline: false,
    showline: true, mirror: true, linecolor: AXC, linewidth: 2.5,
    ticks: 'inside', ticklen: 19, tickwidth: 2, tickcolor: AXC,
    tickfont: {family: FONT, size: FS_TICK, color: '#000'},
    ticklabelstandoff: 22
  },
  yaxis: {
    range: [0, 1.2], tickvals: yTicks, ticktext: yTicks.map(String),
    showgrid: false, zeroline: false,
    showline: true, mirror: true, linecolor: AXC, linewidth: 2.5,
    ticks: 'inside', ticklen: 14, tickwidth: 2, tickcolor: AXC,
    tickfont: {family: FONT, size: FS_TICK, color: '#000'},
    ticklabelstandoff: 34
  },
  annotations: [
    {text: xTitle, xref: 'paper', yref: 'paper', x: px2x(1017), y: py2y(1524),
     xanchor: 'center', yanchor: 'middle', showarrow: false, align: 'center',
     font: {family: FONT, size: FS_TEXT, color: '#000'}},
    {text: yTitle, xref: 'paper', yref: 'paper', x: px2x(72), y: py2y(672),
     xanchor: 'center', yanchor: 'middle', showarrow: false, align: 'center', textangle: -90,
     font: {family: FONT, size: FS_TEXT, color: '#000'}},
    {text: sourceNote, xref: 'paper', yref: 'paper', x: px2x(146), y: py2y(1700),
     xanchor: 'left', yanchor: 'middle', showarrow: false, align: 'left',
     font: {family: FONT, size: FS_TEXT, color: '#000'}}
  ]
};

Plotly.newPlot('chart', traces, layout, {displayModeBar: false, staticPlot: true});
</script>
</body>
</html>
